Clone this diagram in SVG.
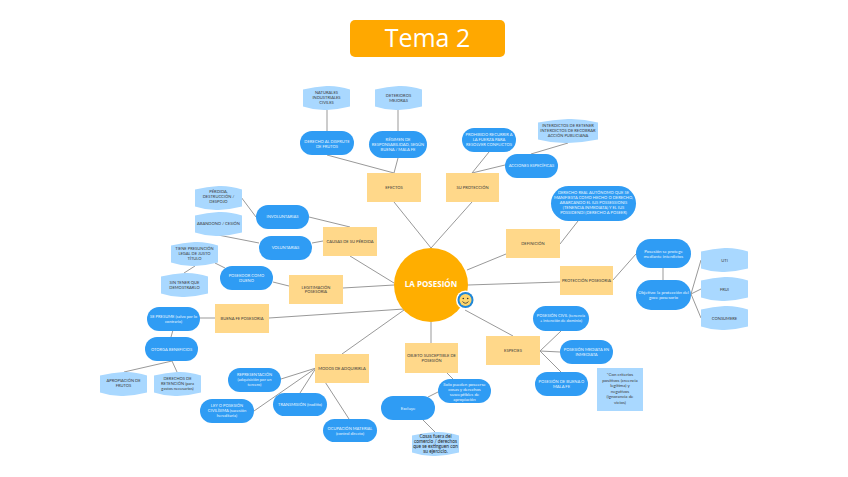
<svg xmlns="http://www.w3.org/2000/svg" width="848" height="477" viewBox="0 0 848 477">
<style>
text{font-family:Lato,"Liberation Sans",sans-serif;font-size:4.1px;text-anchor:middle;fill:#3a3a3a}
.y{fill:#ffd88a}.b{fill:#2f9cf4}.l{fill:#a9d8ff}
.b~text{fill:#e6f4ff}
.m{font-size:4.4px}
.c{font-size:4.8px;fill:#222}
#connectors line{stroke:#999;stroke-width:1;fill:none}
</style>
<defs><path id="hex" class="l" d="M0 3.500Q12 .5 23.500 0T47 3.500V20.500Q35 23.500 23.500 24T0 20.500Z"/></defs>
<rect width="848" height="477" fill="#fff"/>
<g id="title"><rect x="350" y="20" width="155" height="37" rx="5" fill="#ffa800"/><text x="427.500" y="47" style="font-size:25px;font-family:'Open Sans',sans-serif;fill:#fff">Tema 2</text></g>
<g id="connectors">
<line x1="394" y1="202" x2="431" y2="248"/><line x1="472" y1="202" x2="431" y2="248"/>
<line x1="506" y1="254" x2="467" y2="270"/><line x1="560" y1="282" x2="468" y2="285"/>
<line x1="513" y1="336" x2="465" y2="310"/><line x1="431" y1="343" x2="431" y2="322"/>
<line x1="342" y1="354" x2="404" y2="310"/><line x1="269" y1="318" x2="404" y2="309"/>
<line x1="343" y1="288" x2="394" y2="285"/><line x1="350" y1="256" x2="394" y2="283"/>
<line x1="394" y1="173" x2="327" y2="155"/><line x1="394" y1="173" x2="398" y2="158"/>
<line x1="327" y1="110" x2="327" y2="131"/><line x1="398" y1="110" x2="398" y2="131"/>
<line x1="472" y1="173" x2="489" y2="152"/><line x1="472" y1="173" x2="505" y2="165"/>
<line x1="531" y1="154" x2="568" y2="143"/><line x1="560" y1="244" x2="578" y2="221"/>
<line x1="613" y1="280" x2="636" y2="254"/><line x1="663" y1="268" x2="663" y2="280"/>
<line x1="691" y1="294" x2="701" y2="260"/><line x1="691" y1="294" x2="701" y2="289"/><line x1="691" y1="294" x2="701" y2="318"/>
<line x1="350" y1="227" x2="309" y2="217"/><line x1="256" y1="217" x2="241" y2="197"/>
<line x1="259" y1="243" x2="218" y2="235"/><line x1="312" y1="243" x2="323" y2="241"/>
<line x1="289" y1="286" x2="273" y2="282"/><line x1="225" y1="268" x2="215" y2="263"/>
<line x1="195" y1="266" x2="184" y2="273"/><line x1="215" y1="318" x2="200" y2="318"/>
<line x1="173" y1="330" x2="171" y2="337"/><line x1="172" y1="361" x2="124" y2="372"/><line x1="172" y1="361" x2="177" y2="372"/>
<line x1="316" y1="368" x2="281" y2="379"/><line x1="316" y1="368" x2="254" y2="411"/><line x1="316" y1="368" x2="300" y2="393"/><line x1="316" y1="368" x2="349" y2="419"/>
<line x1="446" y1="372" x2="453" y2="379"/><line x1="438" y1="392" x2="428" y2="397"/><line x1="422" y1="419" x2="435" y2="432"/>
<line x1="540" y1="351" x2="561" y2="331"/><line x1="540" y1="351" x2="560" y2="352"/><line x1="540" y1="351" x2="561" y2="372"/>
</g>
<g id="center"><circle cx="431" cy="285" r="37" fill="#ffae00"/><text x="431" y="287" style="font-size:8px;font-weight:700;fill:#fff;font-family:'Open Sans',sans-serif">LA POSESIÓN</text></g>
<g id="smiley"><circle cx="465.500" cy="300" r="9.500" fill="#fff"/><circle cx="465.500" cy="300" r="8" fill="#1f87d8"/><circle cx="465.500" cy="300" r="6" fill="#ffd66b"/><circle cx="463.300" cy="298.500" r=".8" fill="#333"/><circle cx="467.700" cy="298.500" r=".8" fill="#333"/><path d="M462.500 301.500q3 3.500 6 0" fill="none" stroke="#333" stroke-width=".8"/></g>

<g id="n-efectos"><rect class="y" x="367" y="173" width="54" height="29"/><text x="394" y="189">EFECTOS</text></g>
<g id="n-proteccion"><rect class="y" x="446" y="173" width="53" height="29"/><text x="472.500" y="189">SU PROTECCIÓN</text></g>
<g id="n-definicion"><rect class="y" x="506" y="229" width="54" height="29"/><text x="533" y="245">DEFINICIÓN</text></g>
<g id="n-posesoria"><rect class="y" x="560" y="266" width="53" height="29"/><text x="586.500" y="281.500">PROTECCIÓN POSESORIA</text></g>
<g id="n-causas"><rect class="y" x="323" y="227" width="54" height="29"/><text x="350" y="242.500">CAUSAS DE SU PÉRDIDA</text></g>
<g id="n-legitimacion"><rect class="y" x="289" y="275" width="54" height="29"/><text x="316" y="288.500">LEGITIMACIÓN</text><text x="316" y="293">POSESORIA</text></g>
<g id="n-buenafe"><rect class="y" x="215" y="304" width="54" height="29"/><text x="242" y="320">BUENA FE POSESORIA</text></g>
<g id="n-modos"><rect class="y" x="315" y="354" width="54" height="29"/><text x="342" y="370">MODOS DE ADQUIRIRLA</text></g>
<g id="n-objeto"><rect class="y" x="405" y="343" width="53" height="30"/><text x="431.500" y="356.500">OBJETO SUSCEPTIBLE DE</text><text x="431.500" y="361.500">POSESIÓN</text></g>
<g id="n-especies"><rect class="y" x="486" y="336" width="54" height="29"/><text x="513" y="352">ESPECIES</text></g>

<g id="n-disfrute"><rect class="b" x="300" y="131" width="54" height="24" rx="12"/><text x="327" y="142.500">DERECHO AL DISFRUTE</text><text x="327" y="147.500">DE FRUTOS</text></g>
<g id="n-regimen"><rect class="b" x="369" y="131" width="58" height="27" rx="13.500"/><text x="398" y="140.500">RÉGIMEN DE</text><text x="398" y="145.500">RESPONSABILIDAD, SEGÚN</text><text x="398" y="150.500">BUENA / MALA FE</text></g>
<g id="n-prohibido"><rect class="b" x="462" y="128" width="54" height="24" rx="12"/><text x="489" y="136">PROHIBIDO RECURRIR A</text><text x="489" y="141">LA FUERZA PARA</text><text x="489" y="146">RESOLVER CONFLICTOS</text></g>
<g id="n-acciones"><rect class="b" x="505" y="154" width="53" height="24" rx="12"/><text x="531.500" y="167">ACCIONES ESPECÍFICAS</text></g>
<g id="n-derechoreal"><rect class="b" x="551" y="186" width="85" height="35" rx="17.500"/><text x="593.500" y="194">DERECHO REAL AUTÓNOMO QUE SE</text><text x="593.500" y="199">MANIFIESTA COMO HECHO O DERECHO,</text><text x="593.500" y="204">ABARCANDO EL IUS POSSESSIONIS</text><text x="593.500" y="209">(TENENCIA INMEDIATA) Y EL IUS</text><text x="593.500" y="214">POSSIDENDI (DERECHO A POSEER)</text></g>
<g id="n-protege"><rect class="b" x="636" y="239" width="55" height="29" rx="14.500"/><text class="m" x="663.500" y="252.500">Posesión se protege</text><text class="m" x="663.500" y="257.500">mediante interdictos</text></g>
<g id="n-objetivo"><rect class="b" x="636" y="280" width="55" height="30" rx="15"/><text class="m" x="663.500" y="293.500">Objetivo: la protección del</text><text class="m" x="663.500" y="298.500">goce posesorio</text></g>
<g id="n-involuntarias"><rect class="b" x="256" y="205" width="53" height="24" rx="12"/><text x="282.500" y="218">INVOLUNTARIAS</text></g>
<g id="n-voluntarias"><rect class="b" x="259" y="236" width="53" height="24" rx="12"/><text x="285.500" y="248.500">VOLUNTARIAS</text></g>
<g id="n-poseedor"><rect class="b" x="220" y="266" width="53" height="24" rx="12"/><text x="246.500" y="276.500">POSEEDOR COMO</text><text x="246.500" y="281.500">DUEÑO</text></g>
<g id="n-presume"><rect class="b" x="147" y="307" width="53" height="24" rx="12"/><text x="173.500" y="317.500">SE PRESUME (salvo por lo</text><text x="173.500" y="322.500">contrario)</text></g>
<g id="n-otorga"><rect class="b" x="145" y="337" width="53" height="24" rx="12"/><text x="171.500" y="350.500">OTORGA BENEFICIOS</text></g>
<g id="n-representacion"><rect class="b" x="228" y="368" width="53" height="24" rx="12"/><text x="254.500" y="375.500">REPRESENTACIÓN</text><text x="254.500" y="380.500">(adquisición por un</text><text x="254.500" y="385.500">tercero)</text></g>
<g id="n-ley"><rect class="b" x="200" y="399" width="54" height="24" rx="12"/><text x="227" y="406.500">LEY O POSESIÓN</text><text x="227" y="411.500">CIVILÍSIMA (sucesión</text><text x="227" y="416.500">hereditaria)</text></g>
<g id="n-transmision"><rect class="b" x="273" y="393" width="54" height="23" rx="11.500"/><text x="300" y="405.500">TRANSMISIÓN (traditio)</text></g>
<g id="n-ocupacion"><rect class="b" x="323" y="419" width="54" height="23" rx="11.500"/><text x="350" y="429.500">OCUPACIÓN MATERIAL</text><text x="350" y="434.500">(control directo)</text></g>
<g id="n-solo"><rect class="b" x="438" y="379" width="53" height="24" rx="12"/><text class="m" x="464.500" y="385.500">Solo pueden poseerse</text><text class="m" x="464.500" y="390.500">cosas y derechos</text><text class="m" x="464.500" y="395.500">susceptibles de</text><text class="m" x="464.500" y="400.500">apropiación</text></g>
<g id="n-excluye"><rect class="b" x="381" y="396" width="54" height="24" rx="12"/><text class="m" x="408" y="409.500">Excluye</text></g>
<g id="n-civil"><rect class="b" x="533" y="306" width="56" height="25" rx="12.500"/><text x="561" y="317">POSESIÓN CIVIL (tenencia</text><text x="561" y="322">+ intención de dominio)</text></g>
<g id="n-mediata"><rect class="b" x="560" y="340" width="53" height="24" rx="12"/><text x="586.500" y="350.500">POSESIÓN MEDIATA EN</text><text x="586.500" y="355.500">INMEDIATA</text></g>
<g id="n-buena"><rect class="b" x="535" y="372" width="53" height="24" rx="12"/><text x="561.500" y="383">POSESIÓN DE BUENA O</text><text x="561.500" y="388">MALA FE</text></g>

<g id="n-naturales"><use href="#hex" x="303" y="86"/><text x="326.500" y="94">NATURALES</text><text x="326.500" y="99">INDUSTRIALES</text><text x="326.500" y="104">CIVILES</text></g>
<g id="n-deterioros"><use href="#hex" x="375" y="86"/><text x="398.500" y="96.500">DETERIOROS</text><text x="398.500" y="101.500">MEJORAS</text></g>
<g id="n-interdictos"><path class="l" d="M538 122.500Q553 119.500 568 119T598 122.500V139.500Q583 142.500 568 143T538 139.500Z"/><text x="568" y="127">INTERDICTOS DE RETENER</text><text x="568" y="132">INTERDICTOS DE RECOBRAR</text><text x="568" y="137">ACCIÓN PUBLICIANA</text></g>
<g id="n-perdida"><use href="#hex" x="195" y="186"/><text x="218.500" y="193">PÉRDIDA,</text><text x="218.500" y="198">DESTRUCCIÓN /</text><text x="218.500" y="203">DESPOJO</text></g>
<g id="n-abandono"><use href="#hex" x="195" y="212"/><text x="218.500" y="225">ABANDONO / CESIÓN</text></g>
<g id="n-tiene"><use href="#hex" x="171" y="242"/><text x="194.500" y="250">TIENE PRESUNCIÓN</text><text x="194.500" y="255">LEGAL DE JUSTO</text><text x="194.500" y="260">TÍTULO</text></g>
<g id="n-sintener"><use href="#hex" x="161" y="273"/><text x="184.500" y="284">SIN TENER QUE</text><text x="184.500" y="289">DEMOSTRARLO</text></g>
<g id="n-apropiacion"><use href="#hex" x="100" y="372"/><text x="123.500" y="382">APROPIACIÓN DE</text><text x="123.500" y="387">FRUTOS</text></g>
<g id="n-retencion"><use href="#hex" x="154" y="372"/><text x="177.500" y="379.500">DERECHOS DE</text><text x="177.500" y="384.500">RETENCIÓN (para</text><text x="177.500" y="389.500">gastos necesarios)</text></g>
<g id="n-uti"><use href="#hex" x="701" y="248"/><text x="724.500" y="261.500">UTI</text></g>
<g id="n-frui"><use href="#hex" x="701" y="277"/><text x="724.500" y="290.500">FRUI</text></g>
<g id="n-consumere"><use href="#hex" x="701" y="306"/><text x="724.500" y="319.500">CONSUMERE</text></g>
<g id="n-cosas"><use href="#hex" x="412" y="432"/><text class="c" x="435.500" y="438">Cosas fuera del</text><text class="c" x="435.500" y="443">comercio / derechos</text><text class="c" x="435.500" y="448">que se extinguen con</text><text class="c" x="435.500" y="453">su ejercicio.</text></g>
<g id="n-criterios"><rect class="l" x="597" y="368" width="46" height="43"/><text class="m" x="620" y="376">*Con criterios</text><text class="m" x="620" y="381.500">positivos (creencia</text><text class="m" x="620" y="387">legítima) y</text><text class="m" x="620" y="392.500">negativos</text><text class="m" x="620" y="398">(ignorancia de</text><text class="m" x="620" y="403.500">vicios)</text></g>
</svg>
